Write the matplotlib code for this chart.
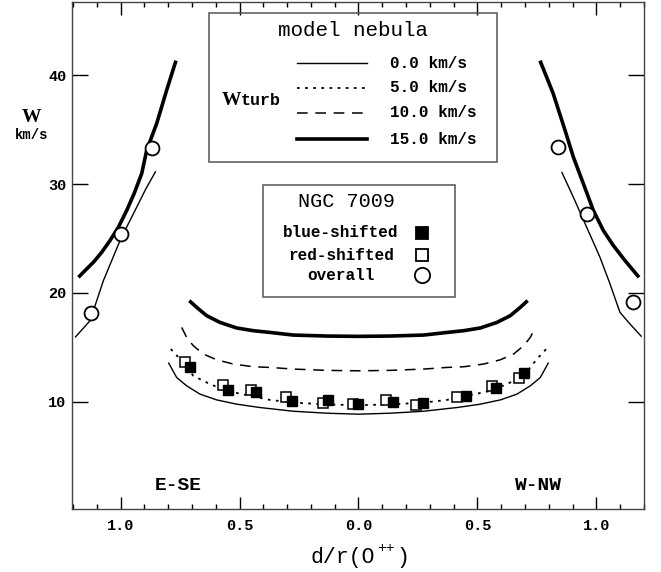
import matplotlib
matplotlib.use('Agg')
import matplotlib.pyplot as plt
from matplotlib.patches import Rectangle
from matplotlib.lines import Line2D
from matplotlib.ticker import MultipleLocator, FuncFormatter


###############################################################################
# Data
###############################################################################

# Edge models, E-SE side
ese_d_15 = [-1.177, -1.149, -1.114, -1.079, -1.044, -1.009, -0.974, -0.943,
            -0.911, -0.890, -0.848, -0.806, -0.767]
ese_w_15 = [21.44, 22.06, 22.82, 23.74, 24.82, 26.04, 27.58, 29.12,
            30.96, 33.10, 35.56, 38.62, 41.32]
ese_d_0 = [-1.191, -1.128, -1.100, -1.072, -1.037, -1.002, -0.967, -0.932,
           -0.893, -0.852]
ese_w_0 = [15.93, 17.46, 19.30, 21.14, 22.98, 24.82, 26.36, 27.88,
           29.58, 31.17]

# Edge models, W-NW side
wnw_d_15 = [0.763, 0.818, 0.868, 0.903, 0.945, 0.987, 1.029, 1.071,
            1.120, 1.179]
wnw_w_15 = [41.32, 38.32, 34.94, 32.48, 30.04, 27.58, 25.74, 24.36,
            22.98, 21.44]
wnw_d_0 = [0.854, 0.903, 0.959, 1.015, 1.057, 1.099, 1.141, 1.190]
wnw_w_0 = [31.11, 28.80, 26.04, 23.28, 20.84, 18.22, 17.16, 15.99]

# Central models
core_d_15 = [-0.711, -0.680, -0.638, -0.582, -0.512, -0.442, -0.372, -0.274,
             -0.134, 0.0, 0.134, 0.274, 0.372, 0.442, 0.512, 0.582, 0.638,
             0.680, 0.711]
core_w_15 = [19.30, 18.68, 17.92, 17.30, 16.79, 16.54, 16.38, 16.14,
             16.05, 16.02, 16.05, 16.14, 16.38, 16.54, 16.79, 17.30, 17.92,
             18.68, 19.30]
core_d_10 = [-0.743, -0.722, -0.694, -0.652, -0.596, -0.526, -0.442, -0.372,
             -0.274, -0.134, 0.0, 0.134, 0.274, 0.372, 0.442, 0.526, 0.596,
             0.652, 0.694, 0.722, 0.743]
core_w_10 = [16.84, 15.92, 15.16, 14.40, 13.87, 13.48, 13.23, 13.17,
             13.02, 12.90, 12.86, 12.90, 13.02, 13.17, 13.23, 13.48, 13.87,
             14.40, 15.16, 15.92, 16.84]
core_d_5 = [-0.789, -0.750, -0.694, -0.624, -0.554, -0.470, -0.372, -0.274,
            -0.134, 0.0, 0.134, 0.274, 0.372, 0.470, 0.554, 0.624, 0.694,
            0.750, 0.789]
core_w_5 = [14.86, 13.94, 12.40, 11.64, 11.02, 10.63, 10.19, 9.94,
            9.78, 9.70, 9.78, 9.94, 10.19, 10.63, 11.02, 11.64, 12.40,
            13.94, 14.86]
core_d_0 = [-0.799, -0.764, -0.722, -0.666, -0.596, -0.512, -0.414, -0.372,
            -0.274, -0.134, 0.0, 0.134, 0.274, 0.372, 0.414, 0.512, 0.596,
            0.666, 0.722, 0.764, 0.799]
core_w_0 = [13.62, 12.24, 11.48, 10.72, 10.19, 9.80, 9.49, 9.39,
            9.15, 8.97, 8.88, 8.97, 9.15, 9.39, 9.49, 9.80, 10.19,
            10.72, 11.48, 12.24, 13.62]

# NGC 7009 observations
blue_d = [-0.71, -0.55, -0.43, -0.28, -0.13, 0.0, 0.145, 0.27, 0.45, 0.58, 0.695]
blue_w = [13.2, 11.1, 10.9, 10.1, 10.2, 9.8, 10.0, 9.95, 10.55, 11.25, 12.65]
red_d = [-0.73, -0.57, -0.45, -0.305, -0.15, -0.025, 0.115, 0.24, 0.415, 0.56, 0.675]
red_w = [13.7, 11.55, 11.1, 10.45, 9.95, 9.8, 10.15, 9.75, 10.45, 11.5, 12.2]
all_d = [-1.124, -0.998, -0.866, 0.839, 0.961, 1.152]
all_w = [18.2, 25.4, 33.3, 33.4, 27.21, 19.14]

turb_labels = ['0.0 km/s', '5.0 km/s', '10.0 km/s', '15.0 km/s']

###############################################################################
# Figure
###############################################################################

W_PX, H_PX = 661, 572
MONO = 'Liberation Mono'
SERIF = 'Liberation Serif'

styles = {
    0: dict(color='black', lw=1.0, ls='-'),
    5: dict(color='black', lw=1.3, ls=(0, (1.5, 3))),
    10: dict(color='black', lw=1.1, ls=(0, (7, 5))),
    15: dict(color='black', lw=2.6, ls='-'),
}


def fx(x):
    return x / W_PX


def fy(y):
    return 1 - y / H_PX


fig = plt.figure(figsize=(W_PX / 100, H_PX / 100), dpi=100)
ax = fig.add_axes([fx(72), fy(509), fx(644) - fx(72), fy(2) - fy(509)])

# Model curves
for d, w, key in [(ese_d_15, ese_w_15, 15), (wnw_d_15, wnw_w_15, 15),
                  (ese_d_0, ese_w_0, 0), (wnw_d_0, wnw_w_0, 0),
                  (core_d_15, core_w_15, 15), (core_d_10, core_w_10, 10),
                  (core_d_5, core_w_5, 5), (core_d_0, core_w_0, 0)]:
    ax.plot(d, w, solid_joinstyle='round', solid_capstyle='butt', **styles[key])

# Observations
ax.plot(red_d, red_w, ls='none', marker='s', ms=7, mfc='white',
        mec='black', mew=1.1, zorder=3)
ax.plot(blue_d, blue_w, ls='none', marker='s', ms=7, mfc='black',
        mec='black', mew=1.0, zorder=4)
ax.plot(all_d, all_w, ls='none', marker='o', ms=10, mfc='white',
        mec='black', mew=1.3, zorder=4)

# Axes
ax.set_xlim(-1.204, 1.2)
ax.set_ylim(0.18, 46.7)
ax.xaxis.set_major_locator(MultipleLocator(0.5))
ax.xaxis.set_minor_locator(MultipleLocator(0.1))
ax.xaxis.set_major_formatter(FuncFormatter(lambda v, p: f'{abs(v):.1f}'))
ax.set_yticks([10, 20, 30, 40])
ax.tick_params(axis='x', which='major', direction='in', length=9, width=1,
               top=True, bottom=True, pad=7)
ax.tick_params(axis='x', which='minor', direction='in', length=3.6, width=1,
               top=True, bottom=True)
ax.tick_params(axis='y', which='major', direction='in', length=11.5, width=1,
               left=True, right=True, pad=4)
for spine in ax.spines.values():
    spine.set_color('#444444')
    spine.set_linewidth(1.0)
for label in ax.get_xticklabels() + ax.get_yticklabels():
    label.set_fontfamily(MONO)
    label.set_fontweight('bold')
    label.set_fontsize(11)

# Axis labels
fig.text(fx(31), fy(122), 'W', family=SERIF, weight='bold', fontsize=14,
         ha='center', va='baseline')
fig.text(fx(32), fy(139), 'km/s', family=MONO, weight='bold', fontsize=10,
         ha='center', va='baseline')
fig.text(fx(310), fy(563), 'd/r(O', family=MONO, fontsize=15.5,
         ha='left', va='baseline')
fig.text(fx(377), fy(552), '++', family=MONO, fontsize=10.5,
         ha='left', va='baseline')
fig.text(fx(396), fy(563), ')', family=MONO, fontsize=15.5,
         ha='left', va='baseline')
fig.text(fx(178), fy(486), 'E-SE', family=MONO, weight='bold', fontsize=14,
         ha='center', va='center')
fig.text(fx(538), fy(486), 'W-NW', family=MONO, weight='bold', fontsize=14,
         ha='center', va='center')

# Model nebula legend
fig.patches.append(Rectangle((fx(209), fy(162)), fx(497) - fx(209),
                             fy(13) - fy(162), transform=fig.transFigure,
                             fill=False, ec='#555555', lw=1.1))
fig.text(fx(353), fy(30), 'model nebula', family=MONO, fontsize=15,
         ha='center', va='center')
fig.text(fx(222), fy(105), 'W', family=SERIF, weight='bold', fontsize=14,
         ha='left', va='baseline')
fig.text(fx(241), fy(105), 'turb', family=MONO, weight='bold', fontsize=12,
         ha='left', va='baseline')
for row_y, key, text in zip([63, 88, 113, 139], [0, 5, 10, 15], turb_labels):
    fig.lines.append(Line2D([fx(297), fx(367)], [fy(row_y), fy(row_y)],
                            transform=fig.transFigure, **styles[key]))
    fig.text(fx(390), fy(row_y), text, family=MONO, weight='bold',
             fontsize=11.5, ha='left', va='center')

# NGC 7009 legend
fig.patches.append(Rectangle((fx(263), fy(297)), fx(455) - fx(263),
                             fy(185) - fy(297), transform=fig.transFigure,
                             fill=False, ec='#555555', lw=1.1))
fig.text(fx(347), fy(201), 'NGC 7009', family=MONO, fontsize=14.5,
         ha='center', va='center')
obs_rows = [
    (233, 'blue-shifted', dict(marker='s', ms=8, mfc='black', mec='black')),
    (255, 'red-shifted', dict(marker='s', ms=8, mfc='white', mec='black')),
    (275, 'overall', dict(marker='o', ms=11, mfc='white', mec='black')),
]
for row_y, text, mstyle in obs_rows:
    fig.text(fx(341), fy(row_y), text, family=MONO, weight='bold',
             fontsize=11.5, ha='center', va='center')
    fig.lines.append(Line2D([fx(422)], [fy(row_y)], ls='none', mew=1.3,
                            transform=fig.transFigure, **mstyle))

fig.savefig('out.png', dpi=100)
